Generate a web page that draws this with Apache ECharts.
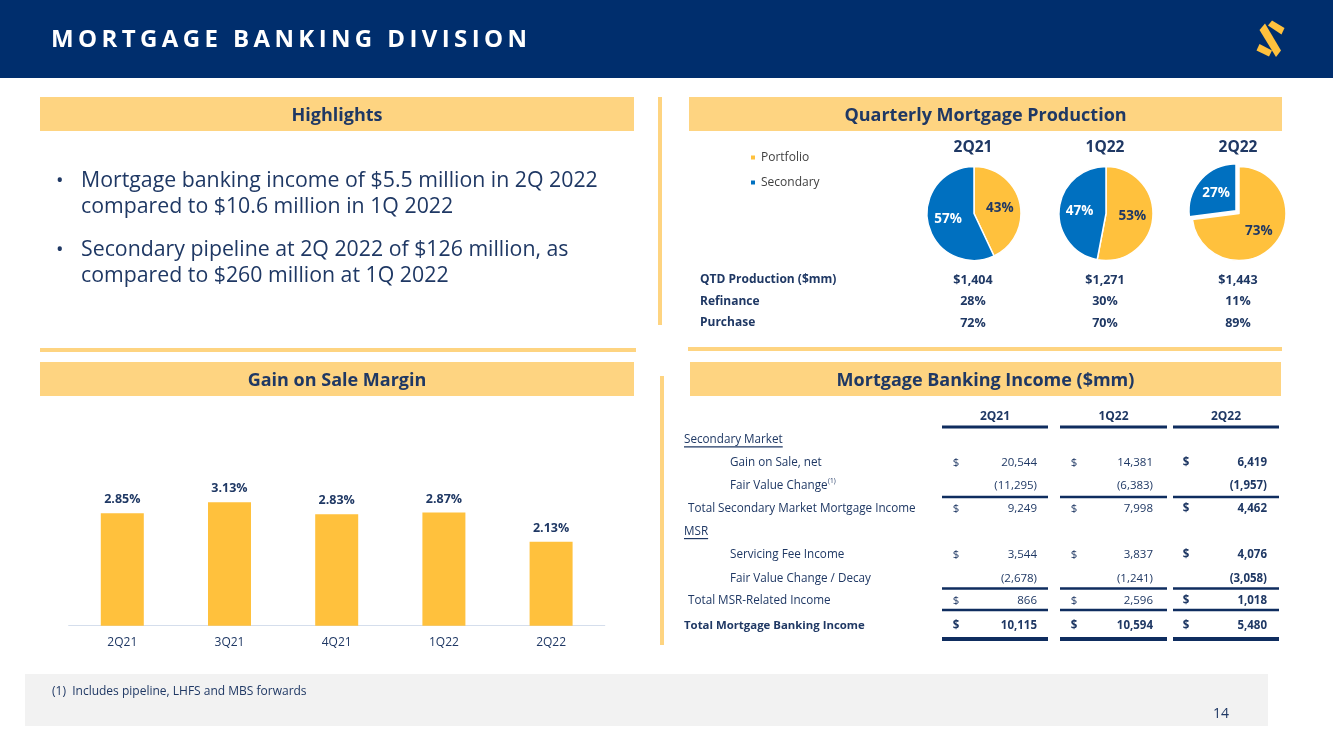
<!DOCTYPE html>
<html><head><meta charset="utf-8">
<script src="https://cdn.jsdelivr.net/npm/echarts@6/dist/echarts.min.js"></script>
<style>html,body{margin:0;padding:0;background:#fff}#chart{width:1333px;height:749px}</style>
</head><body><div id="chart"></div>
<script>
// ---------------- DATA ----------------
const slideTitle = 'MORTGAGE BANKING DIVISION';
const sectionTitles = ['Highlights', 'Quarterly Mortgage Production', 'Gain on Sale Margin', 'Mortgage Banking Income ($mm)'];
const highlightBullets = [
  ['Mortgage banking income of $5.5 million in 2Q 2022', 'compared to $10.6 million in 1Q 2022'],
  ['Secondary pipeline at 2Q 2022 of $126 million, as', 'compared to $260 million at 1Q 2022']
];
const marginQuarters = ['2Q21', '3Q21', '4Q21', '1Q22', '2Q22'];
const gainOnSaleMargin = [2.85, 3.13, 2.83, 2.87, 2.13];

const productionQuarters = ['2Q21', '1Q22', '2Q22'];
const productionSeries = ['Portfolio', 'Secondary'];
const portfolioPct = [43, 53, 73];
const secondaryPct = [57, 47, 27];
const productionRowLabels = ['QTD Production ($mm)', 'Refinance', 'Purchase'];
const qtdProduction = ['$1,404', '$1,271', '$1,443'];
const refinancePct = ['28%', '30%', '11%'];
const purchasePct = ['72%', '70%', '89%'];

const incomeQuarters = ['2Q21', '1Q22', '2Q22'];
const incomeRowLabels = ['Secondary Market', 'Gain on Sale, net', 'Fair Value Change', 'Total Secondary Market Mortgage Income',
  'MSR', 'Servicing Fee Income', 'Fair Value Change / Decay', 'Total MSR-Related Income', 'Total Mortgage Banking Income'];
const gainOnSaleNet = [20544, 14381, 6419];
const fairValueChange = [-11295, -6383, -1957];
const totalSecondaryIncome = [9249, 7998, 4462];
const servicingFeeIncome = [3544, 3837, 4076];
const fairValueDecay = [-2678, -1241, -3058];
const totalMsrIncome = [866, 2596, 1018];
const totalMortgageBankingIncome = [10115, 10594, 5480];
const footnote = '(1)  Includes pipeline, LHFS and MBS forwards';
const pageNumber = '14';

// ---------------- STYLE / LAYOUT ----------------
const NAVY = '#1F3864', HEADER = '#002E6D', BANNER = '#FED481', YEL = '#FFC13D', BLUE = '#0070C0';
const FONT = '"Open Sans", "Noto Sans", sans-serif';
const cv = document.createElement('canvas').getContext('2d');
function measure(t, size, weight) { cv.font = (weight || 'normal') + ' ' + size + 'px ' + FONT; return cv.measureText(t).width; }
function acct(v) { const s = Math.abs(v).toLocaleString('en-US'); return v < 0 ? '(' + s + ')' : s; }

const g = [];
function rect(x, y, w, h, fill) { g.push({ type: 'rect', silent: true, shape: { x, y, width: w, height: h }, style: { fill } }); }
function text(x, y, t, o) {
  o = o || {};
  g.push({ type: 'text', silent: true, x, y, style: {
    text: t, fill: o.fill || NAVY, fontSize: o.size || 12, fontWeight: o.weight || 'normal', fontFamily: FONT,
    textAlign: o.align || 'left', textVerticalAlign: 'middle' } });
}

// header
rect(0, 0, 1333, 78, HEADER);
(function () {
  const size = 24, weight = 'bold';
  const chars = slideTitle.split('');
  const nat = chars.reduce((s, c) => s + measure(c, size, weight), 0);
  const sp = (476 - nat) / (chars.length - 1);
  let x = 51;
  chars.forEach(c => { text(x, 40, c, { size, weight, fill: '#FFFFFF' }); x += measure(c, size, weight) + sp; });
})();
// logo
[[[1268, 25.5], [1272, 20.5], [1284.5, 28], [1281.5, 34.5]],
 [[1259.5, 30], [1265, 23.5], [1281, 50.5], [1276, 57]],
 [[1256.5, 50.5], [1259.5, 44], [1272, 50.5], [1269, 56.5]]].forEach(p => g.push({ type: 'polygon', silent: true, shape: { points: p }, style: { fill: YEL } }));

// banners and dividers
const banners = [[40, 97, 594], [689, 97, 593], [40, 362, 594], [690, 362, 591]];
banners.forEach((b, i) => { rect(b[0], b[1], b[2], 34, BANNER); text(b[0] + b[2] / 2, b[1] + 19, sectionTitles[i], { size: 18, weight: 'bold', align: 'center' }); });
rect(40, 348, 596, 4, BANNER);
rect(688, 347, 594, 4, BANNER);
rect(658, 97, 4, 228, BANNER);
rect(660, 376, 4, 269, BANNER);

// highlights bullets
const bulletY = [[181, 207], [250, 276]];
highlightBullets.forEach((lines, i) => {
  text(56, bulletY[i][0], '•', { size: 20 });
  lines.forEach((l, j) => text(81, bulletY[i][j], l, { size: 21.3 }));
});

// production table under pies
const pieCx = [974, 1106, 1239];
productionQuarters.forEach((q, i) => text(pieCx[i] - 1, 148, q, { size: 15.5, weight: 'bold', align: 'center' }));
const prodRows = [qtdProduction, refinancePct, purchasePct];
const prodY = [280, 301.5, 323];
productionRowLabels.forEach((l, r) => {
  text(700, prodY[r], l, { size: 12, weight: 'bold' });
  prodRows[r].forEach((v, i) => text(pieCx[i] - 1, prodY[r], v, { size: 12.5, weight: 'bold', align: 'center' }));
});

// income table
const colDollar = [956, 1074, 1186], colRight = [1037, 1153, 1267];
const colLine = [[942, 1048], [1060, 1167], [1173, 1279]];
incomeQuarters.forEach((q, i) => text((colLine[i][0] + colLine[i][1]) / 2, 416.5, q, { size: 12, weight: 'bold', align: 'center' }));
const incomeValues = [null, gainOnSaleNet, fairValueChange, totalSecondaryIncome, null, servicingFeeIncome, fairValueDecay, totalMsrIncome, totalMortgageBankingIncome];
const rowY = [440, 462.7, 486, 508.7, 531.7, 555, 578.3, 600.7, 626];
const rowX = [684, 730, 730, 688, 684, 730, 730, 688, 684];
const TS = 11.7;
incomeRowLabels.forEach((l, r) => {
  const totalRow = r === incomeRowLabels.length - 1;
  const w = totalRow ? 'bold' : 'normal';
  const sz = totalRow ? 11.4 : TS;
  text(rowX[r], rowY[r], l, { size: sz, weight: w });
  if (!incomeValues[r]) {
    g.push({ type: 'rect', silent: true, shape: { x: rowX[r], y: rowY[r] + 6.3, width: measure(l, sz, w), height: 1.2 }, style: { fill: NAVY } });
    return;
  }
  if (r === 2) text(rowX[r] + measure(l, sz, w) + 0.5, rowY[r] - 5, '(1)', { size: 6.5 });
  incomeValues[r].forEach((v, i) => {
    const bw = (totalRow || i === 2) ? 'bold' : 'normal';
    if (v >= 0) text(colDollar[i], rowY[r], '$', { size: 11.5, weight: bw, align: 'center' });
    text(colRight[i], rowY[r], acct(v), { size: 11.5, weight: bw, align: 'right' });
  });
});
[[427, 2.8], [497, 2.6], [588.5, 2.6], [610, 2.6], [639, 4.2]].forEach(([y, h]) => colLine.forEach(c => rect(c[0], y - h / 2, c[1] - c[0], h, '#0F2D5F')));

// footnote
rect(25, 674, 1243, 52, '#F2F2F2');
text(52, 692, footnote, { size: 12 });
text(1221, 714, pageNumber, { size: 14, align: 'center' });

// ---------------- CHART ----------------
const pieSeries = productionQuarters.map((q, i) => ({
  type: 'pie', name: q, center: [pieCx[i], 213.5], radius: 47, startAngle: 90, clockwise: true,
  selectedMode: 'single', selectedOffset: 4, animation: false, silent: true,
  labelLine: { show: false },
  label: { show: true, position: 'inside', formatter: '{c}%', fontSize: 13.5, fontWeight: 'bold', fontFamily: FONT },
  itemStyle: { borderColor: '#FFFFFF', borderWidth: 1.5 },
  data: [
    { name: productionSeries[0], value: portfolioPct[i], itemStyle: { color: YEL }, label: { color: NAVY } },
    { name: productionSeries[1], value: secondaryPct[i], selected: i === 2, itemStyle: { color: BLUE }, label: { color: '#FFFFFF' } }
  ]
}));

const chart = echarts.init(document.getElementById('chart'), null, { renderer: 'canvas' });
chart.setOption({
  animation: false,
  backgroundColor: '#FFFFFF',
  textStyle: { fontFamily: FONT },
  legend: {
    data: productionSeries, orient: 'vertical', left: 744, top: 145.5, icon: 'rect', itemWidth: 6, itemHeight: 6,
    itemGap: 11, selectedMode: false, textStyle: { fontSize: 12, color: '#404040', lineHeight: 14, fontFamily: FONT }
  },
  grid: { left: 68.7, width: 536, top: 468, height: 157.7 },
  xAxis: {
    type: 'category', data: marginQuarters,
    axisLine: { lineStyle: { color: '#D5DEEC', width: 1.2 } }, axisTick: { show: false },
    axisLabel: { color: NAVY, fontSize: 12, margin: 11, fontFamily: FONT }
  },
  yAxis: { type: 'value', min: 0, max: 4, show: false, splitLine: { show: false } },
  series: [{
    type: 'bar', name: 'Gain on Sale Margin', data: gainOnSaleMargin, barWidth: 43, silent: true,
    itemStyle: { color: YEL },
    label: { show: true, position: 'top', distance: 7, formatter: p => p.value.toFixed(2) + '%', fontWeight: 'bold', fontSize: 12.5, color: NAVY, fontFamily: FONT }
  }].concat(pieSeries),
  graphic: { elements: g }
});
</script></body></html>
